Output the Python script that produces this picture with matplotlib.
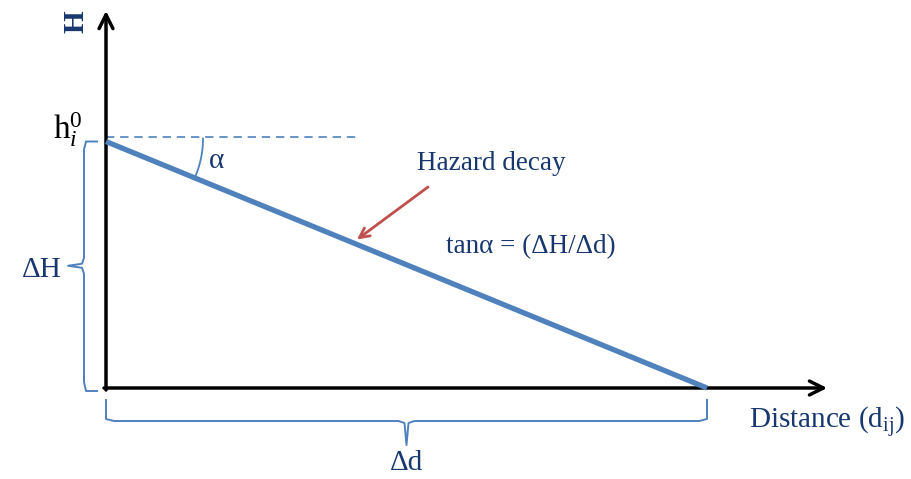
import numpy as np
import matplotlib.pyplot as plt

plt.rcParams['font.family'] = ['Liberation Serif', 'DejaVu Serif']
plt.rcParams['mathtext.fontset'] = 'custom'
plt.rcParams['mathtext.rm'] = 'Liberation Serif'
plt.rcParams['mathtext.it'] = 'Liberation Serif:italic'

# hazard decay line (normalised units)
distance = [0.0, 1.0]
hazard = [1.0, 0.0]
axis_ends = [1.2, 1.53]          # x-axis end, y-axis end
labels = {'y': 'H', 'x': r'Distance (d$_{\rm ij}$)', 'h0': r'h$_{\mathbf{\mathit{i}}}^{0}$',
          'dH': 'ΔH', 'dd': 'Δd', 'alpha': 'α', 'curve': 'Hazard decay',
          'slope': 'tanα = (ΔH/Δd)'}

navy = '#17376E'
blue = '#4F81BD'
red = '#C0504D'

# pixel scale of one unit in each direction
sx, sy = 601.0, 246.5

fig = plt.figure(figsize=(9.12, 4.79), dpi=100)
ax = fig.add_axes([0, 0, 1, 1])
ax.set_xlim(-106 / sx, 806 / sx)
ax.set_ylim(-91 / sy, 388 / sy)
ax.axis('off')

# axes arrows
arr = dict(arrowstyle='->,head_length=1.0,head_width=0.5', color='black', lw=2.5,
           shrinkA=0, shrinkB=0)
ax.annotate('', xy=(axis_ends[0], 0), xytext=(-2 / sx, 0), arrowprops=arr)
ax.annotate('', xy=(0, axis_ends[1]), xytext=(0, -2 / sy), arrowprops=arr)

# decay line
ax.plot(distance, hazard, color=blue, lw=3.8, solid_capstyle='butt', zorder=3)

# dashed reference at h0
h0 = hazard[0]
ax.plot([0, 0.418], [h0 + 0.017, h0 + 0.017], color=blue, lw=1.2, ls=(0, (5, 3.5)))

# angle arc
slope = np.arctan2((hazard[0] - hazard[1]) * sy, (distance[1] - distance[0]) * sx)
th = np.linspace(-slope, 0, 40)
r = 97
ax.plot(r * np.cos(th) / sx, h0 + 0.012 + r * np.sin(th) / sy, color=blue, lw=1.3)


def brace_v(x, y0, y1, tipx, hook):
    ym = (y0 + y1) / 2
    c = 8 / sy
    xs = [x + hook, x + 2 / sx, x, x, x - 2 / sx, tipx, x - 2 / sx, x, x, x + 2 / sx, x + hook]
    ys = [y0 - 1 / sy, y0 - 1 / sy, y0 + c, ym - c, ym - 2 / sy, ym, ym + 2 / sy, ym + c, y1 - c, y1, y1]
    ax.plot(xs, ys, color=blue, lw=1.4)


def brace_h(y, x0, x1, tipy, hook):
    xm = (x0 + x1) / 2
    c = 8 / sx
    xs = [x0, x0, x0 + c, xm - c, xm - 2 / sx, xm, xm + 2 / sx, xm + c, x1 - c, x1, x1]
    ys = [y + hook, y + 2 / sy, y, y, y - 2 / sy, tipy, y - 2 / sy, y, y, y + 2 / sy, y + hook]
    ax.plot(xs, ys, color=blue, lw=1.4)


brace_v(-22 / sx, hazard[1] - 2 / sy, h0, -38 / sx, 13 / sx)
brace_h(-33 / sy, distance[0], distance[1], -57 / sy, 21 / sy)

# texts
ax.text(-30 / sx, axis_ends[1] - 0.045, labels['y'], rotation=90, ha='center', va='center',
        fontsize=21, fontweight='bold', color=navy)
ax.text(-38 / sx, h0 + 0.05, labels['h0'], ha='center', va='center', fontsize=24, color='black')
ax.text(-64 / sx, (h0 + 0) / 2 - 0.02, labels['dH'], ha='center', va='center', fontsize=21, color=navy)
ax.text(0.5, -75 / sy, labels['dd'], ha='center', va='center', fontsize=21, color=navy)
ax.text(111 / sx, h0 - 0.08, labels['alpha'], ha='center', va='center', fontsize=21, color=navy)
ax.text(721 / sx, -34 / sy, labels['x'], ha='center', va='center', fontsize=21, color=navy)
ax.text(385 / sx, (388 - 163) / sy, labels['curve'], ha='center', va='center', fontsize=19.5, color=navy)
ax.text(425 / sx, (388 - 247) / sy, labels['slope'], ha='center', va='center', fontsize=19.5, color=navy)

# pointer to the line
px = 251 / sx
ax.annotate('', xy=(px, hazard[0] - px * (hazard[0] - hazard[1]) / distance[1] + 0.02),
            xytext=(322 / sx, (388 - 187) / sy),
            arrowprops=dict(arrowstyle='->,head_length=0.7,head_width=0.35', color=red, lw=2.0,
                            shrinkA=0, shrinkB=0))

fig.savefig('out.png', dpi=100)
